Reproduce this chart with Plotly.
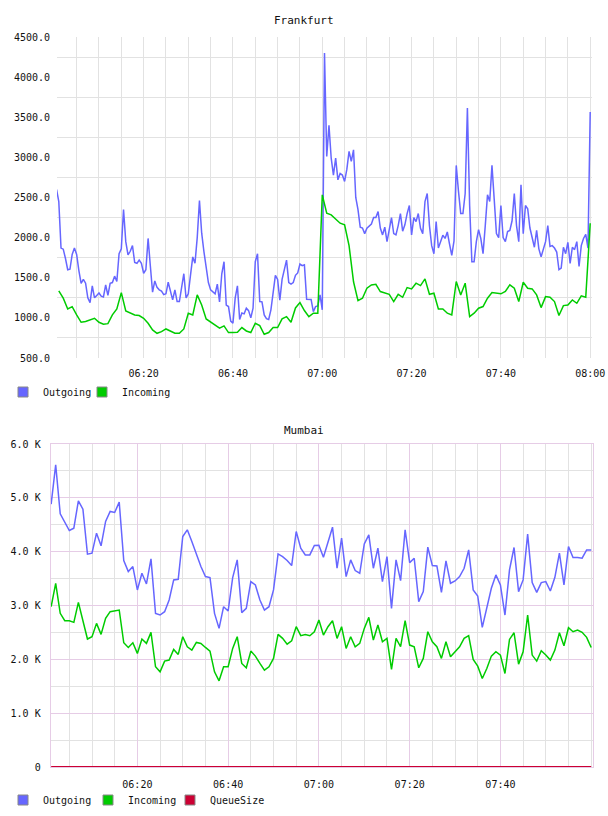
import plotly.graph_objects as go
import pandas as pd

# ---------------- data ----------------
# Frankfurt: Outgoing sampled every 30 s starting 06:00:30, Incoming every 60 s starting 06:01
FR_OUT = [
    2600, 2450, 1870, 1856, 1740, 1600, 1606, 1790, 1870, 1790,
    1590, 1430, 1480, 1432, 1250, 1190, 1400, 1250, 1280, 1310,
    1270, 1260, 1410, 1280, 1430, 1440, 1520, 1453, 1800, 1860,
    2350, 1950, 1785, 1830, 1900, 1690, 1680, 1720, 1680, 1556,
    1600, 1990, 1650, 1320, 1460, 1380, 1350, 1335, 1290, 1300,
    1444, 1350, 1224, 1350, 1203, 1203, 1390, 1550, 1250, 1300,
    1536, 1760, 1681, 2000, 2463, 2055, 1826, 1600, 1440, 1349,
    1320, 1300, 1420, 1200, 1550, 1700, 1160, 1141, 960, 933,
    1245, 1400, 980, 1060, 1050, 1120, 1090, 1000, 1120, 1700,
    1800, 1203, 1200, 1037, 990, 980, 1100, 1328, 1530, 1480,
    1220, 1480, 1600, 1720, 1440, 1420, 1440, 1530, 1560, 1670,
    1650, 1660, 1232, 1230, 1230, 1078, 1140, 1150, 1286, 1100,
    4300, 3010, 3400, 2990, 2780, 2990, 2720, 2800, 2780, 2700,
    2850, 3074, 2950, 3094, 2500, 2350, 2130, 2120, 2050, 2117,
    2150, 2170, 2250, 2250, 2325, 2120, 2034, 2130, 1951, 2100,
    2250, 2050, 2034, 2150, 2300, 2080, 2159, 2300, 2400, 2034,
    2250, 2200, 2300, 2117, 2050, 2450, 2550, 2150, 1900, 1800,
    2200, 1870, 1950, 2030, 1990, 2070, 1920, 1780, 1960, 2900,
    2580, 2300, 2300, 2550, 3614, 2400, 1700, 1700, 1950, 2100,
    1990, 1800, 2150, 2533, 2450, 2900, 2480, 2050, 2000, 2400,
    2000, 1950, 2075, 2090, 2210, 2550, 2150, 1950, 2658, 2050,
    2400, 2360, 2120, 1990, 1880, 2090, 1860, 1760, 1850, 1950,
    2150, 1890, 1900, 1870, 1820, 1600, 1620, 1880, 1800, 1940,
    1680, 1880, 1850, 1950, 1640, 1900, 1990, 2040, 1870, 3565,
]
FR_IN = [
    1336, 1245, 1111, 1140, 1037, 945, 955, 975, 995, 945,
    920, 928, 1037, 1111, 1315, 1087, 1060, 1037, 1029, 995,
    933, 850, 808, 829, 862, 837, 808, 808, 862, 1058,
    1037, 1286, 1161, 987, 945, 912, 871, 900, 817, 817,
    820, 879, 837, 817, 933, 904, 796, 817, 879, 879,
    987, 1016, 945, 1124, 1190, 1091, 1016, 1058, 1058, 2533,
    2305, 2284, 2230, 2180, 2159, 1900, 1450, 1215, 1245, 1369,
    1411, 1419, 1328, 1307, 1294, 1203, 1294, 1257, 1378, 1361,
    1432, 1402, 1486, 1294, 1307, 1111, 1111, 1058, 1037, 1453,
    1286, 1432, 1016, 1058, 1120, 1141, 1245, 1315, 1307, 1300,
    1330, 1411, 1369, 1203, 1444, 1369, 1361, 1286, 1128, 1265,
    1257, 1203, 1029, 1153, 1161, 1224, 1182, 1274, 1257, 2180,
]
# Mumbai: every 60 s starting 06:01
MU_OUT = [
    4883, 5615, 4703, 4542, 4393, 4437, 4945, 4790, 3953, 3971,
    4344, 4108, 4561, 4747, 4728, 4921, 3835, 3630, 3723, 3289,
    3599, 3400, 3866, 2854, 2823, 2885, 3103, 3475, 3487, 4281,
    4406, 4188, 3940, 3723, 3537, 3518, 2854, 2575, 2978, 2898,
    3518, 3847, 2867, 2947, 3444, 3382, 3103, 2916, 2978, 3289,
    3959, 3909, 3835, 3742, 4375, 4064, 3940, 3940, 4114, 4120,
    3897, 4157, 4455, 3692, 4250, 3537, 3847, 3649, 3599, 4145,
    4312, 3692, 4064, 3444, 3909, 2947, 3847, 3462, 4406, 3797,
    3878, 3071, 3258, 4083, 3742, 3735, 3245, 3828, 3413, 3456,
    3537, 3692, 4033, 3289, 3177, 2594, 2947, 3320, 3568, 3382,
    2823, 3661, 4077, 3258, 3475, 4325, 3425, 3245, 3425, 3444,
    3270, 3524, 3971, 3382, 4095, 3891, 3891, 3878, 4033, 4033,
]
MU_IN = [
    2978, 3413, 2854, 2718, 2718, 2687, 3059, 2730, 2377, 2420,
    2668, 2463, 2761, 2885, 2904, 2916, 2308, 2221, 2308, 2110,
    2377, 2296, 2501, 1862, 1768, 1967, 1986, 2184, 2091, 2420,
    2234, 2172, 2314, 2296, 2221, 2153, 1768, 1601, 1862, 1862,
    2203, 2420, 1924, 1843, 2153, 2060, 1924, 1799, 1862, 2017,
    2463, 2389, 2283, 2345, 2606, 2439, 2463, 2439, 2513, 2730,
    2451, 2606, 2718, 2389, 2606, 2203, 2420, 2234, 2296, 2575,
    2780, 2358, 2637, 2327, 2389, 1812, 2389, 2234, 2718, 2265,
    2234, 1843, 2017, 2513, 2327, 2234, 2017, 2327, 2048, 2141,
    2234, 2389, 2439, 1998, 1874, 1644, 1830, 2060, 2141, 2079,
    1737, 2370, 2494, 1911, 2141, 2823, 2079, 1967, 2159, 2079,
    1986, 2172, 2494, 2252, 2587, 2513, 2544, 2501, 2408, 2221,
]
MU_QUEUE = [
    0, 0, 0, 0, 0, 0, 0, 0, 0, 0,
    0, 0, 0, 0, 0, 0, 0, 0, 0, 0,
    0, 4, 12, 6, 0, 0, 0, 0, 0, 0,
    0, 0, 0, 0, 0, 0, 0, 0, 0, 0,
    0, 5, 12, 5, 0, 0, 0, 0, 0, 0,
    0, 0, 0, 0, 0, 0, 0, 0, 0, 0,
    0, 0, 0, 0, 0, 0, 0, 0, 0, 0,
    0, 0, 0, 0, 0, 0, 0, 0, 0, 0,
    0, 0, 0, 0, 0, 0, 0, 0, 0, 0,
    0, 0, 0, 0, 0, 0, 0, 0, 0, 0,
    0, 0, 0, 0, 0, 4, 8, 4, 0, 0,
    0, 0, 0, 0, 0, 0, 0, 0, 0, 0,
]

DAY = "2014-05-12 "
FR_OUT_T = pd.date_range(DAY + "06:00:30", periods=len(FR_OUT), freq="30s")
FR_IN_T = pd.date_range(DAY + "06:01:00", periods=len(FR_IN), freq="60s")
MU_T = pd.date_range(DAY + "06:01:00", periods=len(MU_OUT), freq="60s")

TOP_TICKS = ["06:20", "06:40", "07:00", "07:20", "07:40", "08:00"]
BOT_TICKS = ["06:20", "06:40", "07:00", "07:20", "07:40"]
TOP_Y_TICKS = [500, 1000, 1500, 2000, 2500, 3000, 3500, 4000, 4500]
BOT_Y_TICKS = [0, 1000, 2000, 3000, 4000, 5000, 6000]
BOT_Y_TEXT = ["0", "1.0 K", "2.0 K", "3.0 K", "4.0 K", "5.0 K", "6.0 K"]

BLUE = "#6666ff"
GREEN = "#00cc00"
RED = "#cc0033"
GRAY = "#e2e2e2"
PINK = "#e6cce6"
FONT = "DejaVu Sans Mono"

W, H = 608, 816

fig = go.Figure()

def px_x(p):
    return p / W

def px_y(p):
    return 1 - p / H

legend_specs = {}

def add_series(x, y, name, color, xa, ya, legend, lx, ly, width=1.5):
    fig.add_trace(go.Scatter(x=x, y=y, mode="lines", name=name, legendgroup=legend,
                             line=dict(color=color, width=width), showlegend=False,
                             xaxis=xa, yaxis=ya, hoverinfo="x+y"))
    fig.add_trace(go.Scatter(x=[None], y=[None], mode="markers", name=name,
                             legendgroup=legend, legend=legend,
                             marker=dict(symbol="square", size=10, color=color,
                                         line=dict(color="#888888", width=1)),
                             xaxis=xa, yaxis=ya, showlegend=True))
    legend_specs[legend] = dict(
        orientation="h", x=px_x(lx), y=px_y(ly), xanchor="left", yanchor="middle",
        font=dict(family=FONT, size=10, color="#111111"), bgcolor="rgba(0,0,0,0)",
        itemwidth=30, itemclick=False, itemdoubleclick=False)

add_series(FR_OUT_T, FR_OUT, "Outgoing", BLUE, "x", "y", "legend", 3, 392)
add_series(FR_IN_T, FR_IN, "Incoming", GREEN, "x", "y", "legend2", 82, 392)
add_series(MU_T, MU_OUT, "Outgoing", BLUE, "x2", "y2", "legend3", 3, 800)
add_series(MU_T, MU_IN, "Incoming", GREEN, "x2", "y2", "legend4", 88, 800)
add_series(MU_T, MU_QUEUE, "QueueSize", RED, "x2", "y2", "legend5", 170, 800, width=2)

tick_font = dict(family=FONT, size=10, color="#111111")

fig.update_layout(
    width=W, height=H,
    margin=dict(l=0, r=0, t=0, b=0, autoexpand=False),
    paper_bgcolor="white", plot_bgcolor="white",
    font=dict(family=FONT, size=10, color="#111111"),
    xaxis=dict(
        domain=[px_x(57), px_x(592)], anchor="y", automargin=False,
        range=[DAY + "06:00:36", DAY + "08:00:24"],
        tickvals=[DAY + t for t in TOP_TICKS], ticktext=TOP_TICKS,
        showgrid=True, gridcolor=GRAY, gridwidth=1,
        minor=dict(dtick=300000, tick0=DAY + "06:00:00", showgrid=True, gridcolor=GRAY, gridwidth=1),
        showline=False, zeroline=False, ticks="", tickfont=tick_font, ticklabelstandoff=8,
    ),
    yaxis=dict(
        domain=[px_y(358), px_y(37)], anchor="x", automargin=False,
        range=[500, 4500], tickvals=TOP_Y_TICKS, tickformat=".1f",
        showgrid=False,
        minor=dict(tickvals=[750, 1250, 1750, 2250, 2750, 3250, 3750, 4250],
                   showgrid=True, gridcolor=GRAY, gridwidth=1),
        showline=False, zeroline=False, ticks="", tickfont=tick_font, ticklabelstandoff=6,
    ),
    xaxis2=dict(
        domain=[px_x(50.7), px_x(593)], anchor="y2", automargin=False,
        range=[DAY + "06:00:54", DAY + "08:00:24"],
        tickvals=[DAY + t for t in BOT_TICKS], ticktext=BOT_TICKS,
        showgrid=True, gridcolor=PINK, gridwidth=1,
        minor=dict(dtick=300000, tick0=DAY + "06:00:00", showgrid=True, gridcolor=GRAY, gridwidth=1),
        showline=True, linecolor=PINK, linewidth=1, mirror=True,
        zeroline=False, ticks="", tickfont=tick_font, ticklabelstandoff=8,
    ),
    yaxis2=dict(
        domain=[px_y(767), px_y(444)], anchor="x2", automargin=False,
        range=[0, 6000], tickvals=BOT_Y_TICKS, ticktext=BOT_Y_TEXT,
        showgrid=True, gridcolor=PINK, gridwidth=1,
        minor=dict(tickvals=[500, 1500, 2500, 3500, 4500, 5500],
                   showgrid=True, gridcolor=GRAY, gridwidth=1),
        showline=True, linecolor=PINK, linewidth=1, mirror=True,
        zeroline=False, ticks="", tickfont=tick_font, ticklabelstandoff=7,
    ),
    annotations=[
        dict(text="Frankfurt", x=0.5, y=px_y(20), xref="paper", yref="paper",
             xanchor="center", yanchor="middle",
             showarrow=False, font=dict(family=FONT, size=11, color="#111111")),
        dict(text="Mumbai", x=0.5, y=px_y(430), xref="paper", yref="paper",
             xanchor="center", yanchor="middle",
             showarrow=False, font=dict(family=FONT, size=11, color="#111111")),
    ],
    showlegend=True,
    **legend_specs,
)

fig.write_html("out.html")
